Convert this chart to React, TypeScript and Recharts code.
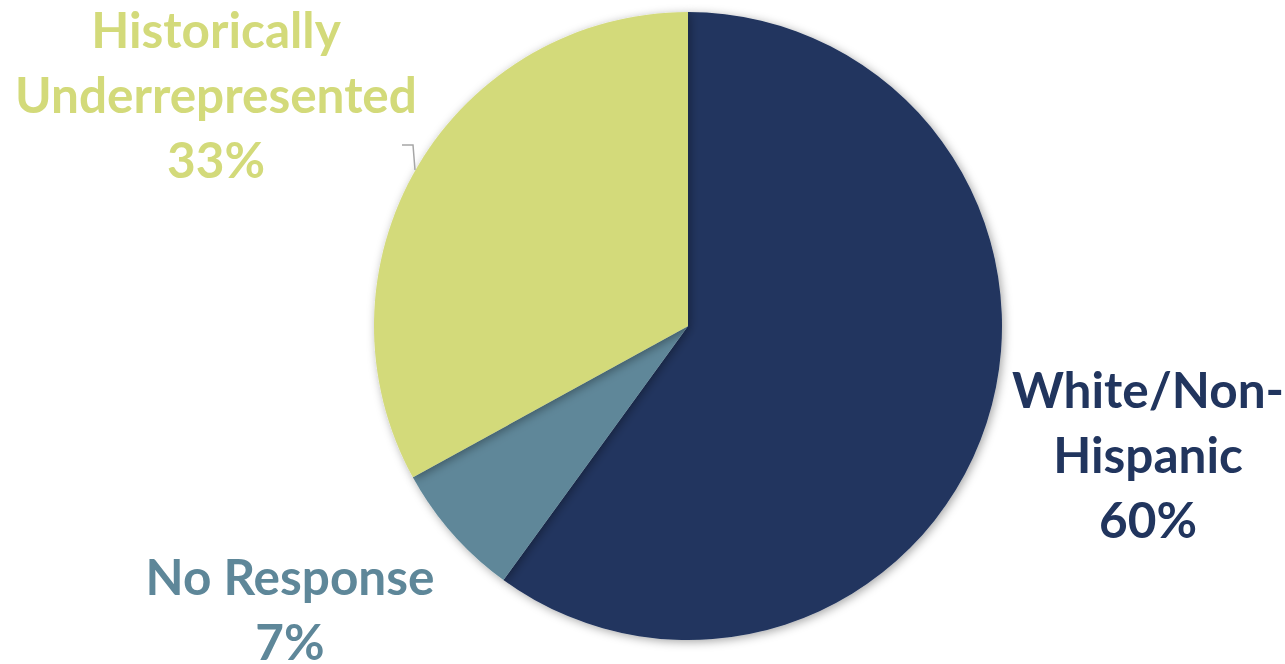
import { PieChart, Pie, Cell } from "recharts";

const categories = ["White/Non-Hispanic", "No Response", "Historically Underrepresented"];
const shares = [60, 7, 33];
const labelLines = [["White/Non-", "Hispanic", "60%"], ["No Response", "7%"], ["Historically", "Underrepresented", "33%"]];

const COLORS = ["#21355E", "#5E8799", "#D3DA7A"];
// baseline of the first label line, relative to the pie centre
const LABEL_OFFSET = [
  { dx: 460, dy: 82 },
  { dx: -398, dy: 269 },
  { dx: -472, dy: -278 },
];

const data = categories.map((name, i) => ({ name, value: shares[i] }));

const FONT_SIZE = 49.5;
const LINE_H = 65;

function renderLabel(props: any) {
  const { cx, cy, index } = props;
  const lines = labelLines[index];
  const off = LABEL_OFFSET[index];
  const x = cx + off.dx;
  const top = cy + off.dy;
  return (
    <g key={`lbl-${index}`}>
      {index === 2 && (
        <polyline
          points={`${cx - 286},${cy - 181} ${cx - 275},${cy - 181} ${cx - 273},${cy - 156}`}
          fill="none"
          stroke="#A6A6A6"
          strokeWidth={1.5}
        />
      )}
      <text
        x={x}
        y={top}
        textAnchor="middle"
        fill={COLORS[index]}
        fontFamily="Lato, 'Open Sans', sans-serif"
        fontWeight={700}
        fontSize={FONT_SIZE}
      >
        {lines.map((l, i) => (
          <tspan key={i} x={x} dy={i === 0 ? 0 : LINE_H}>
            {l}
          </tspan>
        ))}
      </text>
    </g>
  );
}

export default function App() {
  return (
    <div style={{ position: "fixed", left: 0, top: 0, background: "#fff" }}>
      <PieChart width={1285} height={664} margin={{ top: 0, right: 0, bottom: 0, left: 0 }}>
        <defs>
          <filter id="pieShadow" x="-10%" y="-10%" width="120%" height="120%">
            <feDropShadow dx="2" dy="2" stdDeviation="5" floodColor="#000" floodOpacity="0.35" />
          </filter>
        </defs>
        <Pie
          data={data}
          dataKey="value"
          nameKey="name"
          cx={688}
          cy={326}
          outerRadius={314}
          startAngle={90}
          endAngle={-270}
          stroke="none"
          label={renderLabel}
          labelLine={false}
          isAnimationActive={false}
          style={{ filter: "url(#pieShadow)" }}
        >
          {data.map((_, i) => (
            <Cell key={i} fill={COLORS[i]} />
          ))}
        </Pie>
      </PieChart>
    </div>
  );
}
